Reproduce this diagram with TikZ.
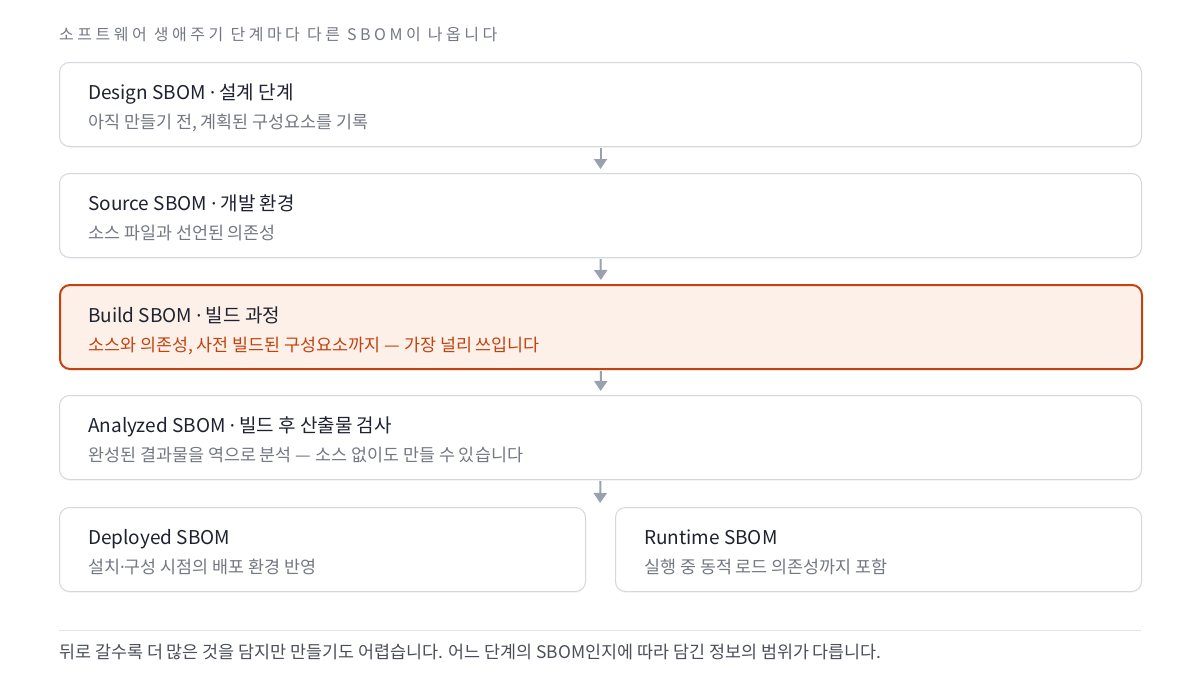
\documentclass[tikz,border=0pt]{standalone}
\usepackage{fontspec}
\setmainfont{Noto Sans CJK KR}
\newfontfamily\capsfont[LetterSpace=22]{Noto Sans CJK KR}
\newfontfamily\dotfont{Noto Sans}
\newcommand\cdotx{{\dotfont ·}}
\usetikzlibrary{positioning,shadows,arrows.meta}

\definecolor{inkdark}{HTML}{1E2230}
\definecolor{inkgray}{HTML}{737883}
\definecolor{notegray}{HTML}{4A4F59}
\definecolor{cardline}{HTML}{D3D7DE}
\definecolor{arrowgray}{HTML}{9AA1AD}
\definecolor{hotline}{HTML}{C4420E}
\definecolor{hotfill}{HTML}{FDF0E8}
\definecolor{rulegray}{HTML}{E1E3E7}

\begin{document}
\begin{tikzpicture}[x=1pt, y=-1pt,
  card/.style={draw=cardline, line width=1pt, rounded corners=10pt, fill=white,
    minimum width=1082pt, minimum height=84pt, inner sep=0pt,
    drop shadow={opacity=0.06, shadow xshift=0pt, shadow yshift=-1.5pt}},
  half/.style={minimum width=526pt},
  hot/.style={draw=hotline, line width=2pt, fill=hotfill},
  headline/.style={anchor=base west, inner sep=0pt, text=inkdark,
    font=\fontsize{19}{23}\selectfont},
  subline/.style={anchor=base west, inner sep=0pt, text=inkgray,
    font=\fontsize{17.4}{21}\selectfont},
  flow/.style={-{Triangle[length=10pt,width=13pt]}, draw=arrowgray,
    fill=arrowgray, line width=2pt, shorten <=1pt, shorten >=4pt}]

% name, style, left x, top y, title, subtitle
\newcommand\stage[6]{%
  \node[card, #2, anchor=north west] (#1) at (#3,#4) {};
  \node[headline] (#1T) at ([xshift=29pt, yshift=5pt]#1.west) {#5};
  \node[subline] (#1S) at ([xshift=29pt, yshift=-24pt]#1.west) {#6};
}

\useasboundingbox (0,0) rectangle (1200,688);

\node[anchor=west, inner sep=0pt, text=inkgray, font=\capsfont\fontsize{16}{19}\selectfont]
  (caption) at (59,35) {소프트웨어 생애주기 단계마다 다른 SBOM이 나옵니다};

\stage{design}{}{59}{62}{Design SBOM \cdotx{} 설계 단계}{아직 만들기 전, 계획된 구성요소를 기록}
\stage{source}{}{59}{173}{Source SBOM \cdotx{} 개발 환경}{소스 파일과 선언된 의존성}
\stage{build}{hot}{59}{284}{Build SBOM \cdotx{} 빌드 과정}{\textcolor{hotline}{소스와 의존성, 사전 빌드된 구성요소까지 — 가장 널리 쓰입니다}}
\stage{analyzed}{}{59}{395}{Analyzed SBOM \cdotx{} 빌드 후 산출물 검사}{완성된 결과물을 역으로 분석 — 소스 없이도 만들 수 있습니다}
\stage{deployed}{half}{59}{507}{Deployed SBOM}{설치\cdotx{}구성 시점의 배포 환경 반영}
\stage{runtime}{half}{615}{507}{Runtime SBOM}{실행 중 동적 로드 의존성까지 포함}

\coordinate (split) at (600,507);
\draw[flow] (design.south) -- (source.north);
\draw[flow] (source.south) -- (build.north);
\draw[flow] (build.south) -- (analyzed.north);
\draw[flow] (analyzed.south) -- (split);

% footer
\coordinate (ruleL) at (59,630);
\coordinate (ruleR) at (1141,630);
\draw[rulegray, line width=1pt] (ruleL) -- (ruleR);
\node[anchor=west, inner sep=0pt, text=notegray, font=\fontsize{17.4}{21}\selectfont]
  (note) at (59,652) {뒤로 갈수록 더 많은 것을 담지만 만들기도 어렵습니다. 어느 단계의 SBOM인지에 따라 담긴 정보의 범위가 다릅니다.};
\end{tikzpicture}
\end{document}
